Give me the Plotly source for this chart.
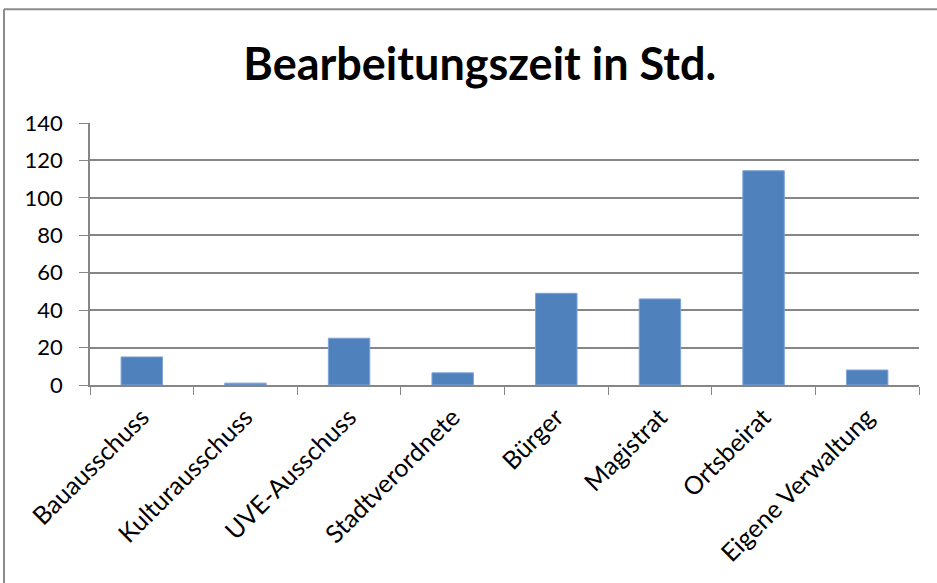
import plotly.graph_objects as go

categories = ["Bauausschuss", "Kulturausschuss", "UVE-Ausschuss", "Stadtverordnete",
              "Bürger", "Magistrat", "Ortsbeirat", "Eigene Verwaltung"]
values = [15, 1, 25, 6.5, 49, 46, 114.5, 8]
y_ticks = [0, 20, 40, 60, 80, 100, 120, 140]

W, H = 937, 583
L, R, T, B = 90, 18, 123, 197.5
pw, ph = W - L - R, H - T - B

fig = go.Figure(go.Bar(
    x=categories, y=values, width=0.4,
    marker=dict(color="#4F81BD", line=dict(color="#7EA3D6", width=1)),
))

fnt = "Lato, Open Sans, sans-serif"
fig.update_layout(
    width=W, height=H,
    margin=dict(l=L, r=R, t=T, b=B, autoexpand=False),
    paper_bgcolor="white", plot_bgcolor="white",
    showlegend=False,
    title=dict(text="<b>Bearbeitungszeit in Std.</b>", x=0.512, xanchor="center",
               y=1 - 64 / H, yanchor="middle", xref="container", yref="container",
               font=dict(family=fnt, size=45, color="black")),
    font=dict(family=fnt, color="black"),
)
fig.update_xaxes(
    type="category", tickangle=-45, tickson="boundaries",
    ticks="outside", ticklen=8, tickcolor="#868686",
    showline=True, linecolor="#868686", linewidth=1.5,
    showgrid=False, ticklabelstandoff=6,
    tickfont=dict(size=25, family=fnt, color="black"),
)
fig.update_yaxes(
    range=[0, 140], tickvals=y_ticks, ticktext=[str(v) for v in y_ticks],
    ticks="outside", ticklen=9, tickcolor="#868686",
    showline=True, linecolor="#868686", linewidth=1.5,
    showgrid=True, gridcolor="#868686", gridwidth=1.5,
    zeroline=False, ticklabelstandoff=12,
    tickfont=dict(size=22, family=fnt, color="black"),
)

# outer chart border (top and left edges visible)
x0 = (4 - L) / pw
y0 = (H - B - 9) / ph
fig.add_shape(type="line", xref="paper", yref="paper", x0=x0, x1=(W + 5 - L) / pw,
              y0=y0, y1=y0, line=dict(color="#8C8C8C", width=2))
fig.add_shape(type="line", xref="paper", yref="paper", x0=x0, x1=x0,
              y0=y0, y1=(H - B - H - 5) / ph, line=dict(color="#8C8C8C", width=2))

fig.write_html("out.html", config={"displayModeBar": False},
               post_script="document.body.style.margin='0px';")
